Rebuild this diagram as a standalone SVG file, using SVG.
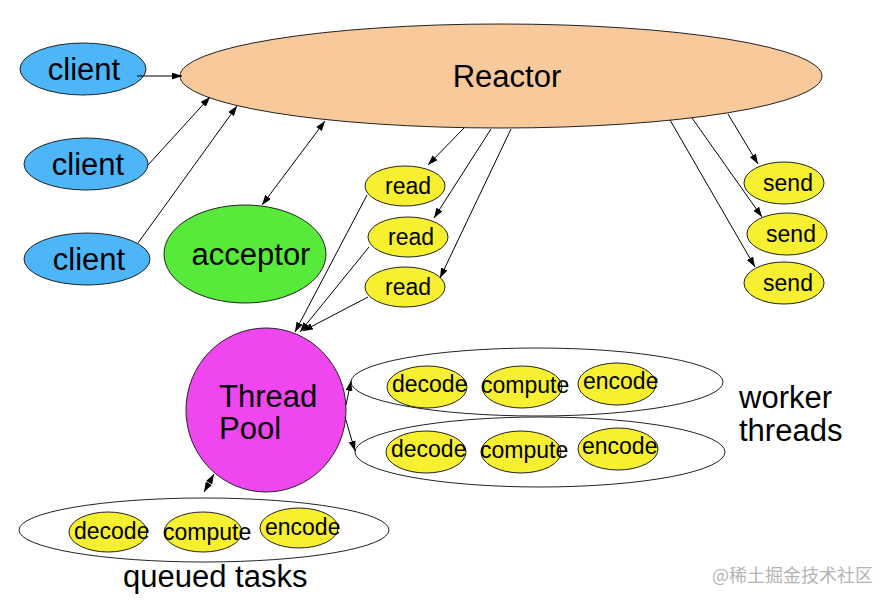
<svg xmlns="http://www.w3.org/2000/svg" width="891" height="602" viewBox="0 0 891 602">
<style>
text{font-family:"Liberation Sans",Arial,sans-serif;fill:#000}
.big{font-size:31px}
.sm{font-size:23px}
.nd{stroke:#222;stroke-width:1}
.client{fill:#4cb6f8}
.y{fill:#f6f030}
.grp{fill:#fff;stroke:#222;stroke-width:1}
.c{stroke:#000;stroke-width:1;fill:none}
.wm{font-family:"Noto Sans CJK SC","Liberation Sans",sans-serif;font-size:18px;fill:#b4b4b4}
</style>
<defs>
<marker id="ah" viewBox="0 0 10 7" refX="10" refY="3.5" markerWidth="10" markerHeight="7" markerUnits="userSpaceOnUse" orient="auto-start-reverse"><path d="M0,0 L10,3.5 L0,7 z" fill="#000"/></marker>
</defs>
<rect width="891" height="602" fill="#fff"/>

<g id="reactor"><ellipse class="nd" cx="501" cy="76" rx="321" ry="52" fill="#f8c99b"/><text class="big" x="507" y="87" text-anchor="middle">Reactor</text></g>

<g id="client1"><ellipse class="nd client" cx="83" cy="69" rx="63" ry="26"/><text class="big" x="84" y="80" text-anchor="middle">client</text></g>
<g id="client2"><ellipse class="nd client" cx="86" cy="164" rx="62" ry="26"/><text class="big" x="88" y="175" text-anchor="middle">client</text></g>
<g id="client3"><ellipse class="nd client" cx="87" cy="259" rx="63" ry="26"/><text class="big" x="89" y="270" text-anchor="middle">client</text></g>

<g id="acceptor"><ellipse class="nd" cx="245" cy="254" rx="81" ry="49" fill="#58ea3a"/><text class="big" x="251" y="265" text-anchor="middle">acceptor</text></g>

<g id="read1"><ellipse class="nd y" cx="405" cy="186" rx="40" ry="20"/><text class="sm" x="408" y="194" text-anchor="middle">read</text></g>
<g id="read2"><ellipse class="nd y" cx="408" cy="237" rx="40" ry="20"/><text class="sm" x="411" y="245" text-anchor="middle">read</text></g>
<g id="read3"><ellipse class="nd y" cx="405" cy="287" rx="40" ry="20"/><text class="sm" x="408" y="295" text-anchor="middle">read</text></g>

<g id="send1"><ellipse class="nd y" cx="784" cy="183" rx="40" ry="21"/><text class="sm" x="788" y="191" text-anchor="middle">send</text></g>
<g id="send2"><ellipse class="nd y" cx="787" cy="234" rx="40" ry="21"/><text class="sm" x="791" y="242" text-anchor="middle">send</text></g>
<g id="send3"><ellipse class="nd y" cx="784" cy="283" rx="40" ry="21"/><text class="sm" x="788" y="291" text-anchor="middle">send</text></g>

<g id="threadpool"><ellipse class="nd" cx="266" cy="410" rx="80" ry="82" fill="#f046f0"/><text class="big" x="219" y="407">Thread</text><text class="big" x="219" y="439">Pool</text></g>

<g id="worker1">
<ellipse class="grp" cx="537" cy="382" rx="186" ry="34"/>
<ellipse class="nd y" cx="427" cy="387" rx="40" ry="21"/>
<ellipse class="nd y" cx="522" cy="387" rx="40" ry="21"/>
<ellipse class="nd y" cx="617" cy="384" rx="39" ry="21"/>
<text class="sm" x="392" y="392">decode</text>
<text class="sm" x="481" y="393">compute</text>
<text class="sm" x="583" y="389">encode</text>
</g>
<g id="worker2">
<ellipse class="grp" cx="540" cy="452" rx="185" ry="35"/>
<ellipse class="nd y" cx="426" cy="452" rx="40" ry="21"/>
<ellipse class="nd y" cx="521" cy="452" rx="40" ry="21"/>
<ellipse class="nd y" cx="618" cy="449" rx="40" ry="21"/>
<text class="sm" x="391" y="457">decode</text>
<text class="sm" x="480" y="458">compute</text>
<text class="sm" x="582" y="454">encode</text>
</g>
<g id="workerlabel"><text class="big" x="739" y="408">worker</text><text class="big" x="739" y="441">threads</text></g>

<g id="queued">
<ellipse class="grp" cx="204" cy="530" rx="185" ry="32"/>
<ellipse class="nd y" cx="108" cy="532" rx="39" ry="20"/>
<ellipse class="nd y" cx="203" cy="532" rx="39" ry="20"/>
<ellipse class="nd y" cx="299" cy="528" rx="39" ry="20"/>
<text class="sm" x="74" y="539">decode</text>
<text class="sm" x="163" y="540">compute</text>
<text class="sm" x="265" y="535">encode</text>
<text class="big" x="123" y="587">queued tasks</text>
</g>

<g id="connectors">
<line class="c" x1="137" y1="76" x2="182" y2="76" marker-end="url(#ah)"/>
<line class="c" x1="148" y1="165" x2="210" y2="97" marker-end="url(#ah)"/>
<line class="c" x1="138" y1="243" x2="237" y2="106" marker-end="url(#ah)"/>
<line class="c" x1="325" y1="121" x2="262" y2="205" marker-start="url(#ah)" marker-end="url(#ah)"/>
<line class="c" x1="464" y1="128" x2="428" y2="165" marker-end="url(#ah)"/>
<line class="c" x1="491" y1="129" x2="434" y2="218" marker-end="url(#ah)"/>
<line class="c" x1="511" y1="129" x2="440" y2="278" marker-end="url(#ah)"/>
<line class="c" x1="367" y1="195" x2="295" y2="332" marker-end="url(#ah)"/>
<line class="c" x1="369" y1="247" x2="300" y2="332" marker-end="url(#ah)"/>
<line class="c" x1="368" y1="297" x2="303" y2="331" marker-end="url(#ah)"/>
<line class="c" x1="728" y1="114" x2="758" y2="164" marker-end="url(#ah)"/>
<line class="c" x1="692" y1="118" x2="762" y2="217" marker-end="url(#ah)"/>
<line class="c" x1="670" y1="120" x2="755" y2="267" marker-end="url(#ah)"/>
<line class="c" x1="346" y1="405" x2="351" y2="381" marker-end="url(#ah)"/>
<line class="c" x1="345" y1="417" x2="355" y2="451" marker-end="url(#ah)"/>
<line class="c" x1="214" y1="474" x2="204" y2="492" marker-start="url(#ah)" marker-end="url(#ah)"/>
</g>

<text class="wm" x="712" y="582">@稀土掘金技术社区</text>
</svg>
